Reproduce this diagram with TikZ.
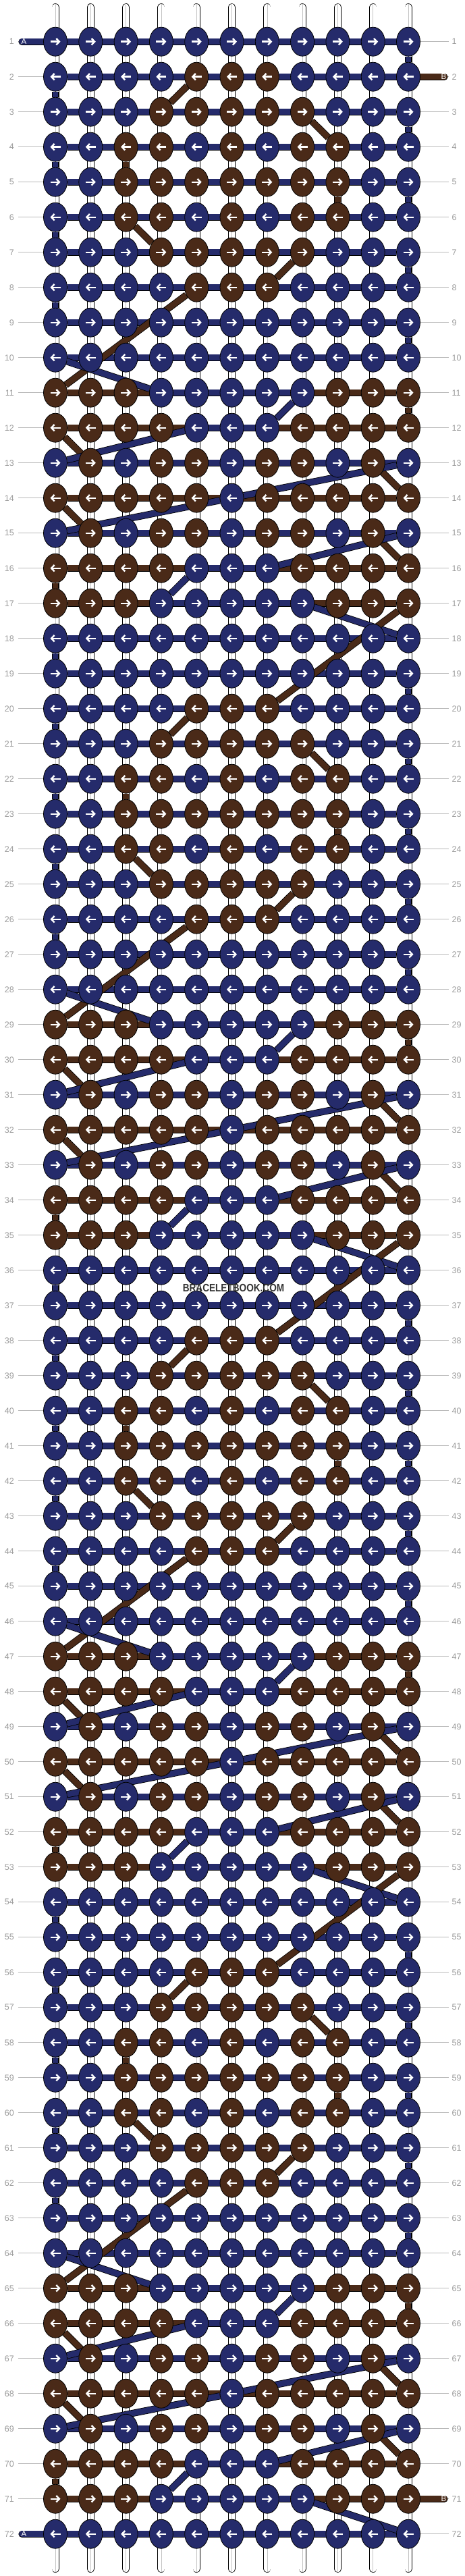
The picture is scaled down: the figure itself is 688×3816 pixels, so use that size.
\documentclass[tikz,border=0pt]{standalone}
\usepackage{fontspec}
\setmainfont{Liberation Sans}
\usepackage{tikz}
\usetikzlibrary{shapes.geometric,arrows.meta}
\definecolor{navyA}{HTML}{252B6B}
\definecolor{brownB}{HTML}{4A2A18}
\definecolor{rowgray}{HTML}{9B9B9B}
\pgfdeclarelayer{warp}
\pgfdeclarelayer{threads}
\pgfsetlayers{warp,threads,main}
\tikzset{
  knot/.style={ellipse, draw=black, line width=0.8pt, minimum width=35pt,
    minimum height=43pt, inner sep=0pt},
  thread/.style={draw=black, line width=0.8pt, double distance=8.6pt},
  navythread/.style={thread, double=navyA},
  brownthread/.style={thread, double=brownB},
  warpline/.style={draw=black, line width=0.7pt, double=white,
    double distance=9.6pt, line cap=round},
  rowline/.style={draw=rowgray!70, line width=0.8pt},
  rowlabel/.style={text=rowgray, font=\fontsize{12.5}{14}\selectfont, inner sep=0pt},
  leadlabel/.style={text=white, font=\fontsize{11.5}{12}\selectfont, inner sep=0pt},
  knotarrow/.style={white, line width=2.4pt, -{Straight Barb[length=4.5pt,width=9.5pt]}}
}
\newcommand{\knotrow}[2]{%
  % one row of 11 knots
  % parameter 1: row number (odd rows knot to the right, even rows to the left)
  % parameter 2: knot colours, 0 = thread A, 1 = thread B
  \edef\rowpat{#2}%
  \pgfmathsetmacro\ky{61.7+52*(#1-1)}%
  \pgfmathtruncatemacro\dir{mod(#1,2)}%
  \foreach \v [count=\c] in \rowpat {
    \pgfmathsetmacro\kx{82+52.3*(\c-1)}
    \ifnum\v=1 \def\kc{brownB}\else\def\kc{navyA}\fi
    \node[knot, fill=\kc] (k-#1-\c) at (\kx,\ky) {};
    \ifnum\dir=1
      \draw[knotarrow] (\kx-7.5,\ky) -- (\kx+7.5,\ky);
    \else
      \draw[knotarrow] (\kx+7.5,\ky) -- (\kx-7.5,\ky);
    \fi
  }
  \node[rowlabel, anchor=east] (ll-#1) at (21,\ky) {#1};
  \node[rowlabel, anchor=west] (rl-#1) at (669.5,\ky) {#1};
  \begin{pgfonlayer}{warp}
    \draw[rowline, shorten <=5.5pt] (ll-#1.east) -- (k-#1-1);
    \draw[rowline, shorten <=4.5pt] (rl-#1.west) -- (k-#1-11);
  \end{pgfonlayer}
}

\begin{document}
\begin{tikzpicture}[x=1pt, y=-1pt]
  \useasboundingbox (0,0) rectangle (688,3816);

  % warp strings
  \begin{pgfonlayer}{warp}
    \foreach \c in {1,...,11} {
      \draw[warpline] (82+52.3*\c-52.3,10.5) -- (82+52.3*\c-52.3,3805.5);
      \draw[rowgray!60, line width=0.5pt] (82+52.3*\c-52.3,6) -- (82+52.3*\c-52.3,3810);
    }
  \end{pgfonlayer}

  % knots
  \knotrow{1}{0,0,0,0,0,0,0,0,0,0,0}
  \foreach \p in {0,18,36,54} {
    \foreach \k/\pat in {0/{0,0,0,0,1,1,1,0,0,0,0}, 1/{0,0,0,1,1,1,1,1,0,0,0},
        2/{0,0,1,1,0,1,0,1,1,0,0}, 3/{0,0,1,1,1,1,1,1,1,0,0},
        4/{0,0,1,1,0,1,0,1,1,0,0}, 5/{0,0,0,1,1,1,1,1,0,0,0},
        6/{0,0,0,0,1,1,1,0,0,0,0}, 7/{0,0,0,0,0,0,0,0,0,0,0},
        8/{0,0,0,0,0,0,0,0,0,0,0}, 9/{1,1,1,0,0,0,0,0,1,1,1},
        10/{1,1,1,1,0,0,0,1,1,1,1}, 11/{0,1,0,1,1,0,1,1,0,1,0},
        12/{1,1,1,1,1,0,1,1,1,1,1}, 13/{0,1,0,1,1,0,1,1,0,1,0},
        14/{1,1,1,1,0,0,0,1,1,1,1}, 15/{1,1,1,0,0,0,0,0,1,1,1},
        16/{0,0,0,0,0,0,0,0,0,0,0}, 17/{0,0,0,0,0,0,0,0,0,0,0}} {
      \pgfmathtruncatemacro\r{2+\k+\p}
      \ifnum\r<73 \knotrow{\r}{\pat}\fi
    }
  }

  % thread ends
  \node[leadlabel] (a-top) at (35.5,61.7) {A};
  \node[leadlabel] (a-bottom) at (35.5,3753.7) {A};
  \node[leadlabel] (b-top) at (657.5,113.7) {B};
  \node[leadlabel] (b-bottom) at (657.5,3701.7) {B};
  \coordinate (a-in) at (32.5,61.7);
  \coordinate (a-out) at (32.5,3753.7);
  \coordinate (b-in) at (658.5,113.7);
  \coordinate (b-out) at (658.5,3701.7);

  \begin{pgfonlayer}{threads}
    % rows: B under A
    \draw[brownthread, line cap=round] (b-in) -- (k-2-5);
    \draw[brownthread, line cap=round] (k-71-1) -- (b-out);
    \foreach \p in {0,18,36,54} {
      \foreach \k/\a/\b in {0/5/7, 1/4/8, 2/3/9, 3/3/9, 4/3/9, 5/4/8, 6/5/7,
          9/1/11, 10/1/11, 11/2/10, 12/1/11, 13/2/10, 14/1/11, 15/1/11} {
        \pgfmathtruncatemacro\r{2+\k+\p}
        \ifnum\r<73 \draw[brownthread] (k-\r-\a) -- (k-\r-\b);\fi
      }
    }
    \draw[navythread, line cap=round] (a-in) -- (k-1-11);
    \draw[navythread, line cap=round] (k-72-11) -- (a-out);
    \foreach \p in {0,18,36,54} {
      \foreach \k/\a/\b in {0/1/11, 1/1/11, 2/1/11, 3/1/11, 4/1/11, 5/1/11,
          6/1/11, 7/1/11, 8/1/11, 9/4/8, 10/5/7, 11/1/11, 13/1/11, 14/5/7,
          15/4/8, 16/1/11, 17/1/11} {
        \pgfmathtruncatemacro\r{2+\k+\p}
        \ifnum\r<72 \draw[navythread] (k-\r-\a) -- (k-\r-\b);\fi
      }
    }
    % from row to row
    \foreach \p in {0,18,36,54} {
      \foreach \k/\n/\a/\b in {0/3/11/7, 1/1/5/4, 2/1/8/9, 3/1/3/3, 4/1/9/9,
          5/1/3/4, 6/1/8/7, 9/3/5/1, 10/1/11/11, 11/1/1/2, 12/1/10/11,
          13/1/1/2, 14/1/10/11, 15/1/1/1} {
        \pgfmathtruncatemacro\r{2+\k+\p}
        \pgfmathtruncatemacro\q{\r-\n}
        \ifnum\r<73 \ifnum\q>1 \draw[brownthread] (k-\q-\a) -- (k-\r-\b);\fi\fi
      }
      \foreach \k/\a/\b in {0/11/11, 1/1/1, 2/11/11, 3/1/1, 4/11/11, 5/1/1,
          6/11/11, 7/1/1, 8/11/11, 9/1/4, 10/8/7, 11/5/1, 12/11/6, 13/6/1,
          14/11/7, 15/5/4, 16/8/11, 17/1/1} {
        \pgfmathtruncatemacro\r{2+\k+\p}
        \pgfmathtruncatemacro\q{\r-1}
        \ifnum\r<73 \draw[navythread] (k-\q-\a) -- (k-\r-\b);\fi
      }
    }
  \end{pgfonlayer}

  \node[text=black!80, font=\bfseries\fontsize{16}{16}\selectfont, xscale=0.85,
    inner sep=0pt] (mark) at (346,1907.7) {BRACELETBOOK.COM};
\end{tikzpicture}
\end{document}
